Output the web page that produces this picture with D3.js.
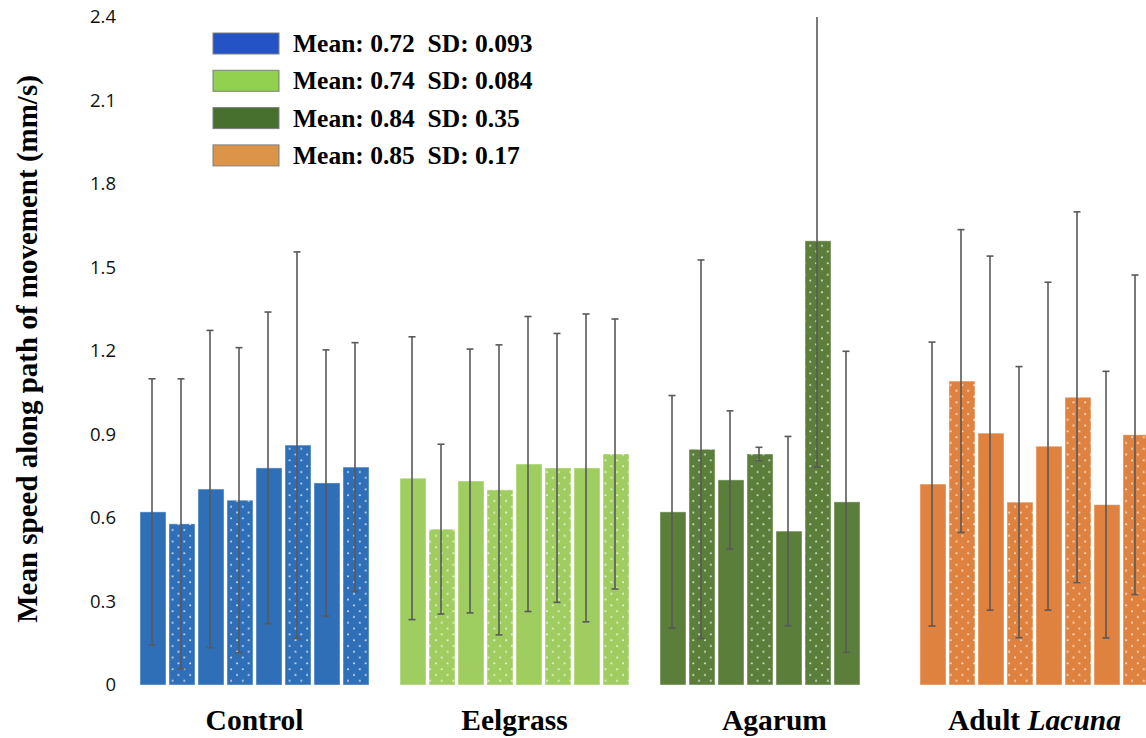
<!DOCTYPE html>
<html>
<head>
<meta charset="utf-8">
<script src="https://cdn.jsdelivr.net/npm/d3@7"></script>
<style>
  html, body { margin: 0; padding: 0; background: #fff; }
  svg { display: block; }
</style>
</head>
<body>
<script>
// groups along the x axis
const groups = ["Control", "Eelgrass", "Agarum", "Adult Lacuna"]

// mean speed per trial (mm/s)
const controlMeans  = [0.622, 0.579, 0.704, 0.664, 0.780, 0.862, 0.726, 0.783]
const eelgrassMeans = [0.743, 0.560, 0.733, 0.701, 0.794, 0.780, 0.780, 0.830]
const agarumMeans   = [0.622, 0.847, 0.737, 0.830, 0.553, 1.596, 0.658]
const lacunaMeans   = [0.722, 1.092, 0.905, 0.657, 0.858, 1.034, 0.648, 0.899]

// +/- error per trial
const controlErr  = [0.478, 0.521, 0.570, 0.548, 0.560, 0.694, 0.478, 0.447]
const eelgrassErr = [0.508, 0.305, 0.474, 0.521, 0.530, 0.483, 0.553, 0.485]
const agarumErr   = [0.418, 0.680, 0.248, 0.024, 0.340, 0.813, 0.541]
const lacunaErr   = [0.510, 0.544, 0.636, 0.487, 0.589, 0.666, 0.479, 0.574]

const legendLabels = [
  "Mean: 0.72  SD: 0.093",
  "Mean: 0.74  SD: 0.084",
  "Mean: 0.84  SD: 0.35",
  "Mean: 0.85  SD: 0.17"
]

const yTicks = [0, 0.3, 0.6, 0.9, 1.2, 1.5, 1.8, 2.1, 2.4]

const barColors = ["#2E6FB7", "#A0CD60", "#5B7F3B", "#E0823F"]
const legendColors = ["#2453C5", "#92D050", "#476F2E", "#DC9449"]

const means = [controlMeans, eelgrassMeans, agarumMeans, lacunaMeans]
const errs = [controlErr, eelgrassErr, agarumErr, lacunaErr]

const W = 1146, H = 738

const svg = d3.select("body").append("svg")
  .attr("width", W)
  .attr("height", H)

// dotted fill, one pattern per colour
const defs = svg.append("defs")
barColors.forEach((c, i) => {
  const p = defs.append("pattern")
    .attr("id", "dots" + i)
    .attr("patternUnits", "userSpaceOnUse")
    .attr("width", 11.7)
    .attr("height", 11.6)
    .attr("x", 0).attr("y", 0)
  p.append("rect").attr("width", 11.7).attr("height", 11.6).attr("fill", c)
  p.append("rect").attr("x", 2.2).attr("y", 1.4).attr("width", 1.6).attr("height", 1.6).attr("fill", "#fff").attr("opacity", 0.9)
  p.append("rect").attr("x", 8.0).attr("y", 7.2).attr("width", 1.6).attr("height", 1.6).attr("fill", "#fff").attr("opacity", 0.9)
})

const y = d3.scaleLinear().domain([0, 2.4]).range([685, 17])

const x0 = d3.scaleBand()
  .domain(groups)
  .range([124.5, 1164.5])
  .paddingInner(31 / 260)
  .paddingOuter(15.5 / 260)

const x1 = d3.scaleBand()
  .domain(d3.range(8))
  .range([0, x0.bandwidth()])
  .paddingInner(3 / 29)

// y axis labels only (no line, no ticks)
const yAxis = d3.axisLeft(y).tickValues(yTicks).tickFormat(d3.format("~g")).tickSize(0).tickPadding(0)
svg.append("g")
  .attr("transform", "translate(116,0)")
  .call(yAxis)
  .call(g => g.select(".domain").remove())
  .call(g => g.selectAll("text")
    .attr("font-family", "'Open Sans', sans-serif")
    .attr("font-size", 18.5)
    .attr("fill", "#111"))

svg.append("text")
  .attr("transform", "translate(37,349) rotate(-90)")
  .attr("text-anchor", "middle")
  .attr("font-family", "'Liberation Serif', 'Times New Roman', serif")
  .attr("font-weight", "bold")
  .attr("font-size", 29)
  .attr("fill", "#000")
  .text("Mean speed along path of movement (mm/s)")

// bars
const data = []
groups.forEach((g, gi) => {
  means[gi].forEach((m, i) => {
    data.push({group: g, gi: gi, i: i, mean: m, err: errs[gi][i]})
  })
})

svg.append("g").selectAll("rect")
  .data(data)
  .join("rect")
    .attr("x", d => x0(d.group) + x1(d.i))
    .attr("y", d => y(d.mean))
    .attr("width", x1.bandwidth())
    .attr("height", d => y(0) - y(d.mean))
    .attr("fill", d => d.i % 2 ? `url(#dots${d.gi})` : barColors[d.gi])
    .attr("stroke", "#fff")
    .attr("stroke-opacity", 0.45)
    .attr("stroke-width", 1)

// error bars, clipped to the plot range
const eb = svg.append("g")
  .attr("stroke", "#595959")
  .attr("stroke-width", 1.6)
  .attr("fill", "none")
  .selectAll("g")
  .data(data)
  .join("g")
    .attr("transform", d => `translate(${x0(d.group) + x1(d.i) + x1.bandwidth() / 2 - 1},0)`)

const hi = d => Math.min(2.4, d.mean + d.err)
const lo = d => Math.max(0, d.mean - d.err)

eb.append("line")
  .attr("y1", d => y(lo(d)))
  .attr("y2", d => y(hi(d)))
eb.filter(d => d.mean + d.err <= 2.4).append("line")
  .attr("x1", -3.5).attr("x2", 3.5)
  .attr("y1", d => y(hi(d))).attr("y2", d => y(hi(d)))
eb.append("line")
  .attr("x1", -3.5).attr("x2", 3.5)
  .attr("y1", d => y(lo(d))).attr("y2", d => y(lo(d)))

// group labels
const labels = svg.append("g")
  .attr("font-family", "'Liberation Serif', 'Times New Roman', serif")
  .attr("font-weight", "bold")
  .attr("font-size", 29.5)
  .attr("text-anchor", "middle")
  .selectAll("text")
  .data(groups)
  .join("text")
    .attr("x", d => x0(d) + x0.bandwidth() / 2)
    .attr("y", 730)

labels.each(function(d) {
  const t = d3.select(this)
  if (d === "Adult Lacuna") {
    t.append("tspan").text("Adult ")
    t.append("tspan").attr("font-style", "italic").text("Lacuna")
  } else {
    t.text(d)
  }
})

// legend
const leg = svg.append("g").selectAll("g")
  .data(legendLabels)
  .join("g")
    .attr("transform", (d, i) => `translate(213,${33 + i * 37.3})`)

leg.append("rect")
  .attr("width", 66)
  .attr("height", 21)
  .attr("fill", (d, i) => legendColors[i])
  .attr("stroke", "#7f7f7f")
  .attr("stroke-width", 1)

leg.append("text")
  .attr("x", 80)
  .attr("y", 19)
  .attr("font-family", "'Liberation Serif', 'Times New Roman', serif")
  .attr("font-weight", "bold")
  .attr("font-size", 25.5)
  .attr("fill", "#000")
  .attr("xml:space", "preserve")
  .style("white-space", "pre")
  .text(d => d)
</script>
</body>
</html>
